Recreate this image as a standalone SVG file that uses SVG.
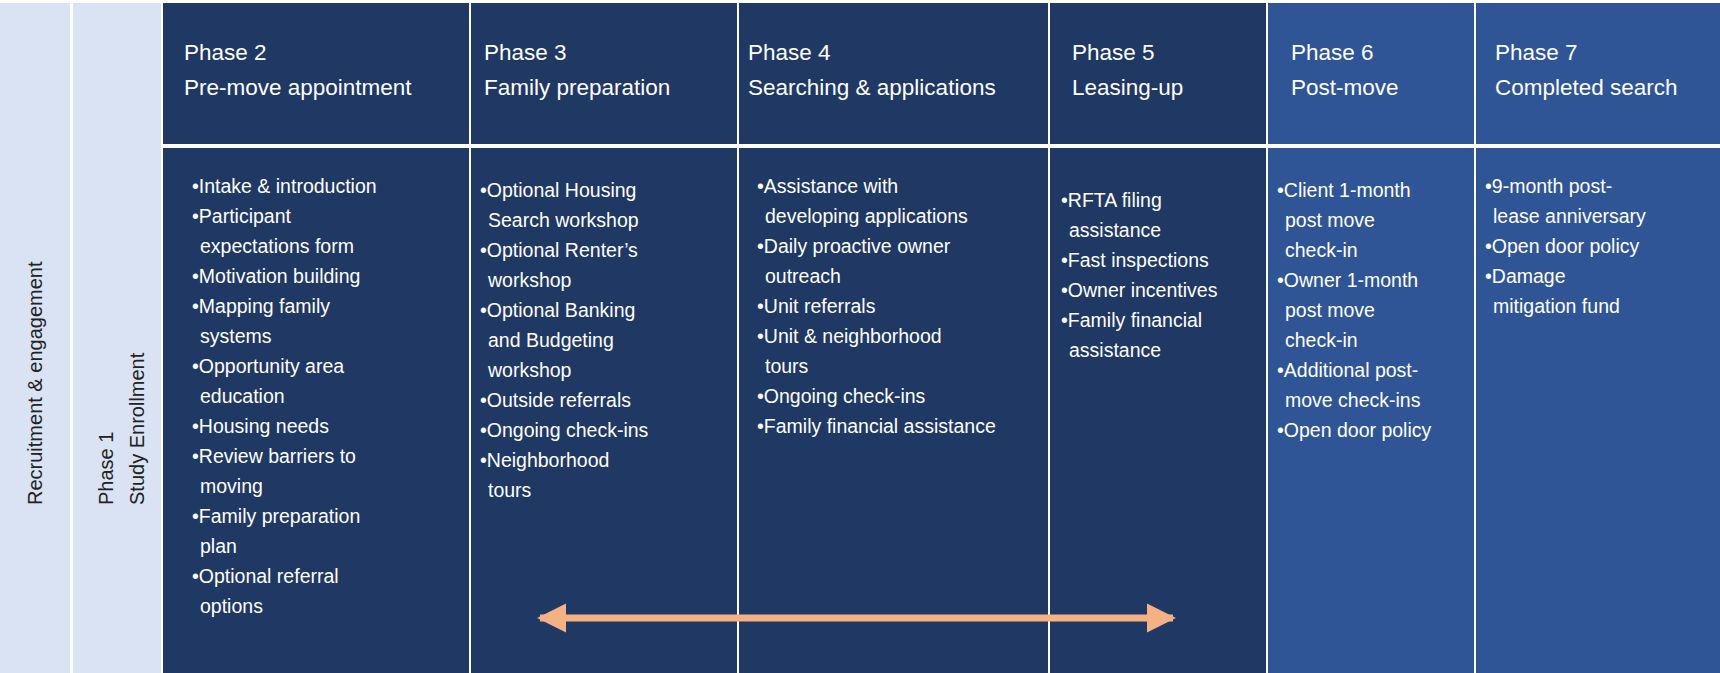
<svg xmlns="http://www.w3.org/2000/svg" width="1720" height="673" viewBox="0 0 1720 673">
<style>
.d{fill:#203864}.l{fill:#2f5597}.p{fill:#dae3f3}
text{font-family:"Liberation Sans",Arial,sans-serif;fill:#fff}
.h{font-size:22.5px}.b{font-size:19.5px}
.v{font-size:20px;fill:#222}
</style>
<defs>
<marker id="ah" viewBox="0 0 10 10" refX="9" refY="5" markerWidth="4.2" markerHeight="4.6" orient="auto-start-reverse" markerUnits="strokeWidth"><path d="M0,0L10,5L0,10z" fill="#f4b183"/></marker>
</defs>
<rect width="1720" height="673" fill="#fff"/>
<g id="side">
<rect class="p" x="0" y="3" width="70" height="670"/>
<rect class="p" x="73" y="3" width="88" height="670"/>
<text class="v" transform="translate(42,505) rotate(-90)">Recruitment &amp; engagement</text>
<text class="v" transform="translate(113,505) rotate(-90)">Phase 1</text>
<text class="v" transform="translate(144,505) rotate(-90)">Study Enrollment</text>
</g>
<g id="headers">
<rect class="d" x="163" y="3" width="306" height="141"/>
<rect class="d" x="471" y="3" width="266" height="141"/>
<rect class="d" x="739" y="3" width="309" height="141"/>
<rect class="d" x="1050" y="3" width="216" height="141"/>
<rect class="l" x="1268" y="3" width="206" height="141"/>
<rect class="l" x="1476" y="3" width="244" height="141"/>
<text class="h" x="184" y="60">Phase 2<tspan x="184" y="95">Pre-move appointment</tspan></text>
<text class="h" x="484" y="60">Phase 3<tspan x="484" y="95">Family preparation</tspan></text>
<text class="h" x="748" y="60">Phase 4<tspan x="748" y="95">Searching &amp; applications</tspan></text>
<text class="h" x="1072" y="60">Phase 5<tspan x="1072" y="95">Leasing-up</tspan></text>
<text class="h" x="1291" y="60">Phase 6<tspan x="1291" y="95">Post-move</tspan></text>
<text class="h" x="1495" y="60">Phase 7<tspan x="1495" y="95">Completed search</tspan></text>
</g>
<g id="bodies">
<rect class="d" x="163" y="148" width="306" height="525"/>
<rect class="d" x="471" y="148" width="266" height="525"/>
<rect class="d" x="739" y="148" width="309" height="525"/>
<rect class="d" x="1050" y="148" width="216" height="525"/>
<rect class="l" x="1268" y="148" width="206" height="525"/>
<rect class="l" x="1476" y="148" width="244" height="525"/>
<text class="b" x="192" y="193">•Intake &amp; introduction<tspan x="192" dy="30">•Participant</tspan><tspan x="200" dy="30">expectations form</tspan><tspan x="192" dy="30">•Motivation building</tspan><tspan x="192" dy="30">•Mapping family</tspan><tspan x="200" dy="30">systems</tspan><tspan x="192" dy="30">•Opportunity area</tspan><tspan x="200" dy="30">education</tspan><tspan x="192" dy="30">•Housing needs</tspan><tspan x="192" dy="30">•Review barriers to</tspan><tspan x="200" dy="30">moving</tspan><tspan x="192" dy="30">•Family preparation</tspan><tspan x="200" dy="30">plan</tspan><tspan x="192" dy="30">•Optional referral</tspan><tspan x="200" dy="30">options</tspan></text>
<text class="b" x="480" y="197">•Optional Housing<tspan x="488" dy="30">Search workshop</tspan><tspan x="480" dy="30">•Optional Renter’s</tspan><tspan x="488" dy="30">workshop</tspan><tspan x="480" dy="30">•Optional Banking</tspan><tspan x="488" dy="30">and Budgeting</tspan><tspan x="488" dy="30">workshop</tspan><tspan x="480" dy="30">•Outside referrals</tspan><tspan x="480" dy="30">•Ongoing check-ins</tspan><tspan x="480" dy="30">•Neighborhood</tspan><tspan x="488" dy="30">tours</tspan></text>
<text class="b" x="757" y="193">•Assistance with<tspan x="765" dy="30">developing applications</tspan><tspan x="757" dy="30">•Daily proactive owner</tspan><tspan x="765" dy="30">outreach</tspan><tspan x="757" dy="30">•Unit referrals</tspan><tspan x="757" dy="30">•Unit &amp; neighborhood</tspan><tspan x="765" dy="30">tours</tspan><tspan x="757" dy="30">•Ongoing check-ins</tspan><tspan x="757" dy="30">•Family financial assistance</tspan></text>
<text class="b" x="1061" y="207">•RFTA filing<tspan x="1069" dy="30">assistance</tspan><tspan x="1061" dy="30">•Fast inspections</tspan><tspan x="1061" dy="30">•Owner incentives</tspan><tspan x="1061" dy="30">•Family financial</tspan><tspan x="1069" dy="30">assistance</tspan></text>
<text class="b" x="1277" y="197">•Client 1-month<tspan x="1285" dy="30">post move</tspan><tspan x="1285" dy="30">check-in</tspan><tspan x="1277" dy="30">•Owner 1-month</tspan><tspan x="1285" dy="30">post move</tspan><tspan x="1285" dy="30">check-in</tspan><tspan x="1277" dy="30">•Additional post-</tspan><tspan x="1285" dy="30">move check-ins</tspan><tspan x="1277" dy="30">•Open door policy</tspan></text>
<text class="b" x="1485" y="193">•9-month post-<tspan x="1493" dy="30">lease anniversary</tspan><tspan x="1485" dy="30">•Open door policy</tspan><tspan x="1485" dy="30">•Damage</tspan><tspan x="1493" dy="30">mitigation fund</tspan></text>
</g>
<g id="connectors">
<line x1="540" y1="618" x2="1173" y2="618" stroke="#f4b183" stroke-width="7" marker-start="url(#ah)" marker-end="url(#ah)"/>
</g>
</svg>
